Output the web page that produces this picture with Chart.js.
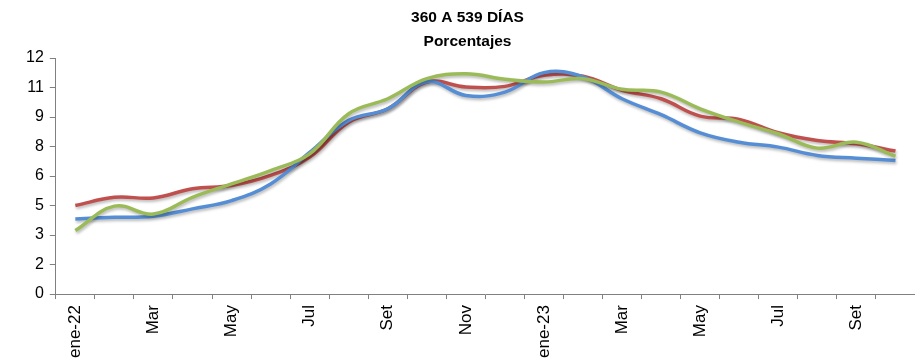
<!DOCTYPE html>
<html>
<head>
<meta charset="utf-8">
<script src="https://cdn.jsdelivr.net/npm/chart.js@4.4.1/dist/chart.umd.min.js"></script>
<style>
  html, body { margin: 0; padding: 0; background: #fff; }
  #wrap { width: 915px; height: 364px; }
</style>
</head>
<body>
<div id="wrap"><canvas id="tasaChart"></canvas></div>
<script>
var months = ['ene-22', 'Feb', 'Mar', 'Abr', 'May', 'Jun', 'Jul', 'Ago', 'Set', 'Oct', 'Nov', 'Dic',
              'ene-23', 'Feb', 'Mar', 'Abr', 'May', 'Jun', 'Jul', 'Ago', 'Set', 'Oct'];

var blueData  = [3.82, 3.9, 3.96, 4.33, 4.75, 5.6, 7.2, 8.83, 9.42, 10.8, 10.1,
                 10.27, 11.26, 11.04, 9.93, 9.12, 8.2, 7.72, 7.47, 7.05, 6.91, 6.79];
var redData   = [4.5, 4.92, 4.89, 5.35, 5.52, 6.03, 6.96, 8.74, 9.42, 10.78, 10.53,
                 10.56, 11.12, 11.07, 10.36, 9.93, 9.05, 8.88, 8.2, 7.81, 7.64, 7.27];
var greenData = [3.23, 4.47, 4.07, 4.92, 5.6, 6.28, 7.13, 9.17, 9.93, 10.95, 11.2,
                 10.92, 10.78, 10.95, 10.41, 10.27, 9.42, 8.74, 8.15, 7.42, 7.72, 7.01];

var yTicks = [0, 1.5, 3, 4.5, 6, 7.5, 9, 10.5, 12];

// soft shadow under each line, like the spreadsheet original
var lineShadow = {
  id: 'lineShadow',
  beforeDatasetDraw: function (chart) {
    var ctx = chart.ctx;
    ctx.save();
    ctx.shadowColor = 'rgba(0,0,0,0.28)';
    ctx.shadowBlur = 3;
    ctx.shadowOffsetX = 1;
    ctx.shadowOffsetY = 2;
  },
  afterDatasetDraw: function (chart) {
    chart.ctx.restore();
  }
};

function makeSet(data, color) {
  return {
    data: data,
    borderColor: color,
    backgroundColor: color,
    borderWidth: 3.5,
    pointRadius: 0,
    tension: 0.4,
    fill: false
  };
}

var ctx = document.getElementById('tasaChart').getContext('2d');
new Chart(ctx, {
  type: 'line',
  data: {
    labels: months,
    datasets: [
      makeSet(greenData, '#9BBB59'),
      makeSet(blueData, '#558ED5'),
      makeSet(redData, '#C0504D')
    ]
  },
  options: {
    responsive: true,
    maintainAspectRatio: false,
    animation: false,
    layout: { padding: { left: 20, right: 0, top: 4, bottom: 0 } },
    plugins: {
      legend: { display: false },
      tooltip: { enabled: false },
      title: {
        display: true,
        text: ['360 A 539 DÍAS', 'Porcentajes'],
        color: '#000',
        font: { family: 'Liberation Sans, Arial', size: 15.5, weight: 'bold', lineHeight: 1.55 },
        padding: { top: 2, bottom: 4 }
      }
    },
    scales: {
      x: {
        offset: true,
        afterFit: function (axis) {
          // let the axis run to the right edge like the original
          axis.paddingRight = 0;
        },
        grid: {
          display: true,
          offset: true,
          drawOnChartArea: false,
          drawTicks: true,
          tickLength: 5,
          color: '#808080'
        },
        border: { display: true, color: '#808080', width: 1 },
        ticks: {
          autoSkip: false,
          maxRotation: 90,
          minRotation: 90,
          padding: 6,
          color: '#000',
          font: { family: 'Liberation Sans, Arial', size: 17 },
          callback: function (value, index) {
            return index % 2 === 0 ? months[index] : '';
          }
        }
      },
      y: {
        min: 0,
        max: 12,
        afterBuildTicks: function (axis) {
          axis.ticks = yTicks.map(function (v) { return { value: v }; });
        },
        grid: {
          display: true,
          drawOnChartArea: false,
          drawTicks: true,
          tickLength: 6,
          color: '#808080'
        },
        border: { display: true, color: '#808080', width: 1 },
        ticks: {
          padding: 6,
          color: '#000',
          font: { family: 'Liberation Sans, Arial', size: 16 },
          callback: function (value) { return Math.round(value); }
        }
      }
    }
  },
  plugins: [lineShadow]
});
</script>
</body>
</html>
